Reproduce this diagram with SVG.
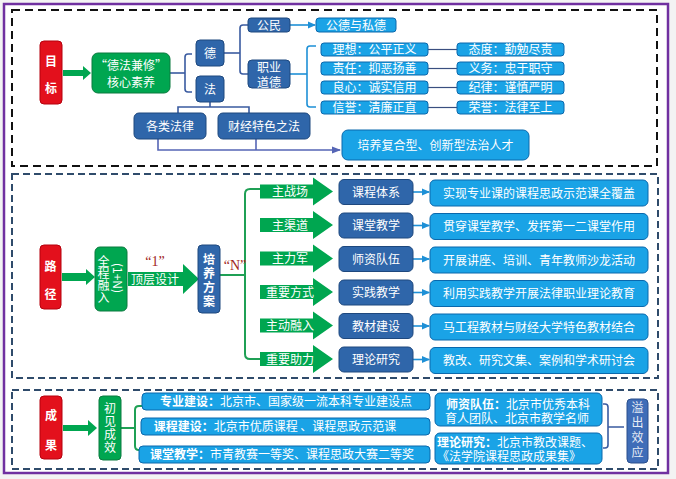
<svg xmlns="http://www.w3.org/2000/svg" width="676" height="479" viewBox="0 0 676 479">
<defs>
<style>
.red{fill:#E3101C;stroke:#B5000C;stroke-width:1}
.grn{fill:#00A650;stroke:#0A7A3E;stroke-width:1}
.garrow{fill:#00A650;stroke:none}
.dk{fill:#2F66AA;stroke:#1E487E;stroke-width:1}
.lt{fill:#1AA3E6;stroke:#0A68AC;stroke-width:1}
.ovf{fill:#3F6DB8;stroke:#2A4F8C;stroke-width:1}
.t{font-family:"Noto Sans CJK SC","Liberation Sans",sans-serif;fill:#fff;text-anchor:middle;font-size:12px}
.m{font-family:"Liberation Sans","Noto Sans CJK SC",sans-serif}
.v{writing-mode:vertical-rl}
.tb{font-weight:bold}
.q{font-family:"Liberation Serif","Noto Serif",serif;fill:#A01E22;font-size:14px;text-anchor:middle}
.dash{fill:none;stroke-width:2}
.bk{fill:none;stroke:#3A5BA0;stroke-width:1.6}
.lb{fill:none;stroke:#1E90D6;stroke-width:1.6}
.gl{fill:none;stroke:#1FA055;stroke-width:2}
</style>
<marker id="ah" markerWidth="8" markerHeight="8" refX="7" refY="4" orient="auto" markerUnits="userSpaceOnUse">
<path d="M0,0.5 L8,4 L0,7.5 z" fill="#1E90D6"/>
</marker>
<marker id="ahp" markerWidth="9" markerHeight="8" refX="8" refY="4" orient="auto" markerUnits="userSpaceOnUse">
<path d="M0,0.5 L9,4 L0,7.5 z" fill="#5565B5"/>
</marker>
</defs>
<rect x="0" y="0" width="676" height="479" fill="#F3F3F3"/>
<rect x="4" y="4" width="664" height="469" fill="#FFFFFF" stroke="#7030A0" stroke-width="2.5"/>
<rect class="dash" x="12" y="10" width="645" height="156" stroke="#111" stroke-dasharray="8 5"/>
<rect class="dash" x="12" y="174" width="646" height="204" stroke="#2F4B6B" stroke-dasharray="7 4"/>
<rect class="dash" x="12" y="390" width="646" height="79" stroke="#2F4B6B" stroke-dasharray="7 4"/>

<g id="connectors">
<polygon class="garrow" points="63,70 83,70 83,66 91,73 83,80 83,76 63,76"/>
<line class="bk" x1="170" y1="73" x2="185" y2="73"/>
<path class="bk" d="M192,54 H188 Q185,54 185,57 V89 Q185,92 188,92 H192"/>
<line class="bk" x1="224" y1="53" x2="240" y2="53"/>
<path class="bk" d="M248,25 H243 Q240,25 240,28 V71 Q240,74 243,74 H248"/>
<line class="lb" x1="290" y1="25" x2="315" y2="25" marker-end="url(#ah)"/>
<line class="lb" x1="290" y1="74" x2="307" y2="74"/>
<path class="lb" d="M316,46 H310 Q307,46 307,49 V104 Q307,107 310,107 H316"/>
<g stroke="#3A4F80" stroke-width="1.2">
<line x1="428" y1="49.5" x2="457" y2="49.5"/>
<line x1="428" y1="68.5" x2="457" y2="68.5"/>
<line x1="428" y1="87.5" x2="457" y2="87.5"/>
<line x1="428" y1="107.5" x2="457" y2="107.5"/>
</g>
<path class="bk" d="M210,102 V107 M178,113 V107 H249 V113"/>
<path fill="none" stroke="#5565B5" stroke-width="1.6" d="M158,139 V150 H340" marker-end="url(#ahp)"/>
<line stroke="#5565B5" stroke-width="1.6" x1="256" y1="139" x2="256" y2="150"/>
<polygon class="garrow" points="62,273 86,273 86,269 95,277 86,285 86,281 62,281"/>
<polygon class="garrow" points="128,272 183,272 183,264 199,279 183,294 183,286 128,286"/>
<line class="gl" x1="220" y1="275" x2="245" y2="275"/>
<path class="gl" d="M261,189 H250 Q245,189 245,194 V354 Q245,359 250,359 H261"/>
<g class="garrow">
<polygon points="260,184.5 313,184.5 313,177.5 333,191.5 313,205.5 313,198.5 260,198.5"/>
<polygon points="260,218 313,218 313,211 333,225 313,239 313,232 260,232"/>
<polygon points="260,251.5 313,251.5 313,244.5 333,258.5 313,272.5 313,265.5 260,265.5"/>
<polygon points="260,285 313,285 313,278 333,292 313,306 313,299 260,299"/>
<polygon points="260,318.5 313,318.5 313,311.5 333,325.5 313,339.5 313,332.5 260,332.5"/>
<polygon points="260,352 313,352 313,345 333,359 313,373 313,366 260,366"/>
</g>
<g class="lb">
<line x1="413" y1="192" x2="429" y2="192" marker-end="url(#ah)"/>
<line x1="413" y1="225.5" x2="429" y2="225.5" marker-end="url(#ah)"/>
<line x1="413" y1="259" x2="429" y2="259" marker-end="url(#ah)"/>
<line x1="413" y1="292.5" x2="429" y2="292.5" marker-end="url(#ah)"/>
<line x1="413" y1="326" x2="429" y2="326" marker-end="url(#ah)"/>
<line x1="413" y1="359.5" x2="429" y2="359.5" marker-end="url(#ah)"/>
</g>
<polygon class="garrow" points="63,425 88,425 88,420 97,428 88,436 88,431 63,431"/>
<line class="gl" x1="121" y1="428" x2="135" y2="428"/>
<path class="gl" d="M143,406 H139 Q135,406 135,410 V446 Q135,450 139,450 H143"/>
<path class="bk" d="M603,404 H605 Q608,404 608,407 V445 Q608,448 605,448 H603 M608,427 H624"/>
</g>

<g id="n-goal"><rect class="red" x="40" y="41" width="22" height="63" rx="4"/><text class="t tb" x="51" y="66" font-size="14">目</text><text class="t tb" x="51" y="93" font-size="14">标</text></g>
<g id="n-core"><rect class="grn" x="92" y="53" width="78" height="40" rx="6"/><text class="t" x="131" y="70" font-size="13">“德法兼修”</text><text class="t" x="131" y="87" font-size="13">核心素养</text></g>
<g id="n-de"><rect class="dk" x="196" y="40" width="28" height="26" rx="4"/><text class="t" x="210" y="58" font-size="14">德</text></g>
<g id="n-fa"><rect class="dk" x="196" y="76" width="28" height="26" rx="4"/><text class="t" x="210" y="94" font-size="14">法</text></g>
<g id="n-gm"><rect class="dk" x="248" y="18" width="42" height="14" rx="3"/><text class="t" x="269" y="29.5" font-size="13">公民</text></g>
<g id="n-gdsd"><rect class="lt" x="316" y="18" width="80" height="14" rx="3"/><text class="t" x="356" y="29.5" font-size="12.5">公德与私德</text></g>
<g id="n-zydd"><rect class="dk" x="248" y="60" width="42" height="28" rx="4"/><text class="t m" x="269" y="72" font-size="12.5">职业</text><text class="t m" x="269" y="86.5" font-size="12.5">道德</text></g>
<g id="n-r1"><rect class="lt" x="321" y="43" width="107" height="13" rx="3"/><text class="t" x="374.5" y="54" font-size="12.3">理想：公平正义</text></g>
<g id="n-r2"><rect class="lt" x="321" y="62" width="107" height="13" rx="3"/><text class="t" x="374.5" y="73" font-size="12.3">责任：抑恶扬善</text></g>
<g id="n-r3"><rect class="lt" x="321" y="81" width="107" height="13" rx="3"/><text class="t" x="374.5" y="92" font-size="12.3">良心：诚实信用</text></g>
<g id="n-r4"><rect class="lt" x="321" y="101" width="107" height="13" rx="3"/><text class="t" x="374.5" y="112" font-size="12.3">信誉：清廉正直</text></g>
<g id="n-s1"><rect class="lt" x="457" y="43" width="107" height="13" rx="3"/><text class="t" x="510.5" y="54" font-size="12.3">态度：勤勉尽责</text></g>
<g id="n-s2"><rect class="lt" x="457" y="62" width="107" height="13" rx="3"/><text class="t" x="510.5" y="73" font-size="12.3">义务：忠于职守</text></g>
<g id="n-s3"><rect class="lt" x="457" y="81" width="107" height="13" rx="3"/><text class="t" x="510.5" y="92" font-size="12.3">纪律：谨慎严明</text></g>
<g id="n-s4"><rect class="lt" x="457" y="101" width="107" height="13" rx="3"/><text class="t" x="510.5" y="112" font-size="12.3">荣誉：法律至上</text></g>
<g id="n-glfl"><rect class="dk" x="134" y="113" width="72" height="26" rx="5"/><text class="t" x="170" y="131" font-size="13">各类法律</text></g>
<g id="n-cjts"><rect class="dk" x="218" y="113" width="92" height="26" rx="5"/><text class="t" x="264" y="131" font-size="13">财经特色之法</text></g>
<g id="n-talent"><rect class="lt" x="342" y="130" width="187" height="30" rx="6"/><text class="t" x="435.5" y="150" font-size="13">培养复合型、创新型法治人才</text></g>

<g id="n-path"><rect class="red" x="40" y="245" width="21" height="64" rx="4"/><text class="t tb" x="50.5" y="271" font-size="14">路</text><text class="t tb" x="50.5" y="299" font-size="14">径</text></g>
<g id="n-qcrr"><rect class="grn" x="95" y="247" width="32" height="64" rx="5"/>
<text class="t v" x="103.5" y="279" font-size="12.5">全程融入</text>
<text class="t v" x="118.5" y="278" font-size="11">(1+N)</text></g>
<g id="n-dcsj"><text class="q" x="155" y="266">“1”</text><text class="t" x="155" y="283.5" font-size="12">顶层设计</text></g>
<g id="n-pyfa"><rect class="dk" x="198" y="245" width="22" height="68" rx="4"/><text class="t tb v" x="209" y="281" font-size="13" letter-spacing="2">培养方案</text></g>
<text class="q" x="235" y="270">“N”</text>
<g id="n-a1"><text class="t" x="290" y="196">主战场</text></g>
<g id="n-a2"><text class="t" x="290" y="229.5">主渠道</text></g>
<g id="n-a3"><text class="t" x="290" y="263">主力军</text></g>
<g id="n-a4"><text class="t" x="290" y="296.5">重要方式</text></g>
<g id="n-a5"><text class="t" x="290" y="330">主动融入</text></g>
<g id="n-a6"><text class="t" x="290" y="363.5">重要助力</text></g>
<g id="n-b1"><rect class="dk" x="339" y="179.5" width="74" height="25" rx="5"/><text class="t" x="376" y="196.5" font-size="12.5">课程体系</text></g>
<g id="n-b2"><rect class="dk" x="339" y="213" width="74" height="25" rx="5"/><text class="t" x="376" y="230" font-size="12.5">课堂教学</text></g>
<g id="n-b3"><rect class="dk" x="339" y="246.5" width="74" height="25" rx="5"/><text class="t" x="376" y="263.5" font-size="12.5">师资队伍</text></g>
<g id="n-b4"><rect class="dk" x="339" y="280" width="74" height="25" rx="5"/><text class="t" x="376" y="297" font-size="12.5">实践教学</text></g>
<g id="n-b5"><rect class="dk" x="339" y="313.5" width="74" height="25" rx="5"/><text class="t" x="376" y="330.5" font-size="12.5">教材建设</text></g>
<g id="n-b6"><rect class="dk" x="339" y="347" width="74" height="25" rx="5"/><text class="t" x="376" y="364" font-size="12.5">理论研究</text></g>
<g id="n-c1"><rect class="lt" x="430" y="180" width="218" height="26" rx="5"/><text class="t" x="539" y="197.5" font-size="12.5">实现专业课的课程思政示范课全覆盖</text></g>
<g id="n-c2"><rect class="lt" x="430" y="213.5" width="218" height="26" rx="5"/><text class="t" x="539" y="231" font-size="12.5">贯穿课堂教学、发挥第一二课堂作用</text></g>
<g id="n-c3"><rect class="lt" x="430" y="247" width="218" height="26" rx="5"/><text class="t" x="539" y="264.5" font-size="12.5">开展讲座、培训、青年教师沙龙活动</text></g>
<g id="n-c4"><rect class="lt" x="430" y="280.5" width="218" height="26" rx="5"/><text class="t" x="539" y="298" font-size="12.5">利用实践教学开展法律职业理论教育</text></g>
<g id="n-c5"><rect class="lt" x="430" y="314" width="218" height="26" rx="5"/><text class="t" x="539" y="331.5" font-size="12.5">马工程教材与财经大学特色教材结合</text></g>
<g id="n-c6"><rect class="lt" x="430" y="347.5" width="218" height="26" rx="5"/><text class="t" x="539" y="365" font-size="12.5">教改、研究文集、案例和学术研讨会</text></g>

<g id="n-result"><rect class="red" x="40" y="396" width="22" height="63" rx="4"/><text class="t tb" x="51" y="420" font-size="14">成</text><text class="t tb" x="51" y="450" font-size="14">果</text></g>
<g id="n-cjcx"><rect class="grn" x="99" y="396" width="22" height="64" rx="4"/><text class="t v" x="110" y="428" font-size="13" letter-spacing="1">初见成效</text></g>
<g id="n-d1"><rect class="lt" x="142" y="393" width="288" height="17" rx="4"/><text class="t" x="286" y="406" font-size="13"><tspan class="tb">专业建设：</tspan>北京市、国家级一流本科专业建设点</text></g>
<g id="n-d2"><rect class="lt" x="141" y="418" width="289" height="17" rx="4"/><text class="t" x="275" y="431" font-size="13"><tspan class="tb">课程建设：</tspan>北京市优质课程 、课程思政示范课</text></g>
<g id="n-d3"><rect class="lt" x="139" y="446" width="291" height="17" rx="4"/><text class="t" x="282" y="459" font-size="13"><tspan class="tb">课堂教学：</tspan>市青教赛一等奖、课程思政大赛二等奖</text></g>
<g id="n-e1"><rect class="lt" x="435" y="393" width="167" height="33" rx="5"/><text class="t m" x="518" y="408.5" font-size="12.5"><tspan class="tb">师资队伍：</tspan>北京市优秀本科</text><text class="t m" x="517" y="423" font-size="12.5">育人团队、北京市教学名师</text></g>
<g id="n-e2"><rect class="lt" x="435" y="433" width="167" height="31" rx="5"/><text class="t m" x="437" y="446.5" font-size="12.5" style="text-anchor:start"><tspan class="tb">理论研究：</tspan>北京市教改课题、</text><text class="t m" x="437" y="461" font-size="12.3" style="text-anchor:start">《法学院课程思政成果集》</text></g>
<g id="n-ovf"><rect class="ovf" x="627" y="399" width="21" height="64" rx="4"/><text class="t v" x="637.5" y="431" font-size="13" letter-spacing="3" style="fill:#E6ECF5">溢出效应</text></g>
</svg>
